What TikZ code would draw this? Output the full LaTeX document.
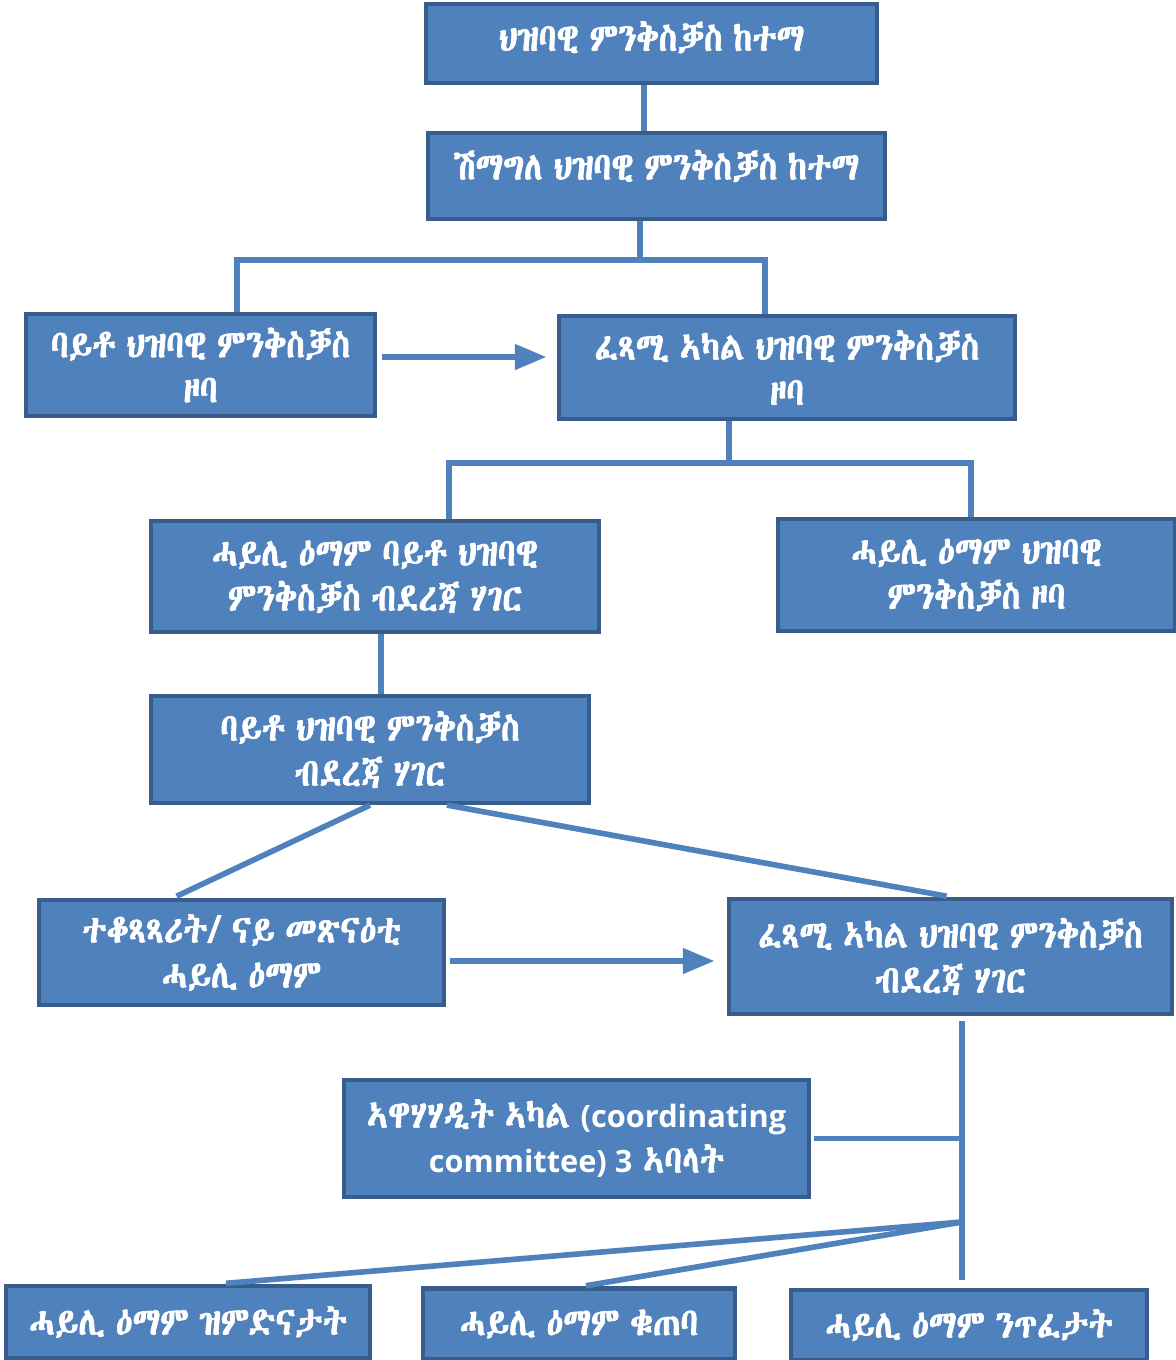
\documentclass[tikz,border=0pt]{standalone}
\usepackage{fontspec}
\usepackage{tikz}
\usetikzlibrary{arrows}
\usepackage{xcolor}

\IfFontExistsTF{Abyssinica SIL}{\newfontfamily\ethfont[FakeBold=1.7, FakeStretch=0.87, WordSpace=0.7]{Abyssinica SIL}}{%
\newfontfamily\ethfont[FakeBold=1.7, FakeStretch=0.87, WordSpace=0.7]{FreeSerif}}
\newfontfamily\latfont{Open Sans}

\definecolor{boxfill}{RGB}{79,129,189}
\definecolor{boxline}{RGB}{56,93,138}

\begin{document}
\begin{tikzpicture}[x=0.02cm, y=-0.02cm,
box/.style={draw=boxline, fill=boxfill, line width=2.4pt, text=white, align=center, inner sep=0pt,
font=\ethfont\fontsize{22}{25.6}\selectfont},
link/.style={boxfill, line width=3.2pt},
arrowlink/.style={link, -triangle 45}]

\useasboundingbox (0,0) rectangle (1176,1360);

\node[box, minimum width=9.02cm, minimum height=1.58cm, text depth=0.3cm] (ketema) at (651.5,43.5) {ህዝባዊ ምንቅስቓስ ከተማ};

\node[box, minimum width=9.14cm, minimum height=1.72cm, text depth=0.45cm] (shimagle) at (656.5,176) {ሽማግለ ህዝባዊ ምንቅስቓስ ከተማ};

\node[box, minimum width=6.98cm, minimum height=2.04cm] (baytozoba) at (200.5,365) {ባይቶ ህዝባዊ ምንቅስቓስ\\ዞባ};

\node[box, minimum width=9.12cm, minimum height=2.06cm] (fetsamizoba) at (787,367.5) {ፈጻሚ ኣካል ህዝባዊ ምንቅስቓስ\\ዞባ};

\node[box, minimum width=8.96cm, minimum height=2.22cm] (hailibayto) at (375,576.5) {ሓይሊ ዕማም ባይቶ ህዝባዊ\\ምንቅስቓስ ብደረጃ ሃገር};

\node[box, minimum width=7.94cm, minimum height=2.24cm] (hailizoba) at (976.5,575) {ሓይሊ ዕማም ህዝባዊ\\ምንቅስቓስ ዞባ};

\node[box, minimum width=8.76cm, minimum height=2.14cm] (baytohager) at (370,749.5) {ባይቶ ህዝባዊ ምንቅስቓስ\\ብደረጃ ሃገር};

\node[box, minimum width=8.10cm, minimum height=2.10cm] (tekotsatsarit) at (241.5,952.5) {ተቆጻጻሪት/ ናይ መጽናዕቲ\\ሓይሊ ዕማም};

\node[box, minimum width=8.86cm, minimum height=2.30cm] (fetsamihager) at (950.5,956.5) {ፈጻሚ ኣካል ህዝባዊ ምንቅስቓስ\\ብደረጃ ሃገር};

\node[box, minimum width=9.30cm, minimum height=2.34cm] (awehahadit) at (576.5,1138.5) {ኣዋሃሃዲት ኣካል {\latfont\bfseries\fontsize{17.5}{25.6}\selectfont (coordinating}\\{\latfont\bfseries\fontsize{17.5}{25.6}\selectfont committee) 3} ኣባላት};

\node[box, minimum width=7.28cm, minimum height=1.44cm] (zimdinatat) at (188,1322) {ሓይሊ ዕማም ዝምድናታት};

\node[box, minimum width=6.24cm, minimum height=1.42cm] (qutebe) at (579,1324) {ሓይሊ ዕማም ቁጠባ};

\node[box, minimum width=7.12cm, minimum height=1.40cm] (nitfetat) at (969,1325) {ሓይሊ ዕማም ንጥፈታት};

\coordinate (zobabus) at (640,260);
\coordinate (hagerbus) at (729,463);
\coordinate (hub) at (962,1222);

\draw[link] ([xshift=-0.15cm]ketema.south) -- ([xshift=-0.15cm]ketema.south |- shimagle.north);

\draw[link] (shimagle.south -| zobabus) -- (zobabus);
\draw[link] ([xshift=0.73cm]baytozoba.north) |- (zobabus) -| ([xshift=-0.44cm]fetsamizoba.north);

\draw[arrowlink, shorten <=0.1cm, shorten >=0.22cm] ([yshift=0.16cm]baytozoba.east) -- ([yshift=0.16cm]baytozoba.east -| fetsamizoba.west);

\draw[link] (fetsamizoba.south -| hagerbus) -- (hagerbus);
\draw[link] ([xshift=1.48cm]hailibayto.north) |- (hagerbus) -| ([xshift=-0.11cm]hailizoba.north);

\draw[link] ([xshift=0.12cm]hailibayto.south) -- ([xshift=0.12cm]hailibayto.south |- baytohager.north);

\draw[link, shorten >=0.08cm] (baytohager.south) -- ([xshift=-1.37cm]tekotsatsarit.north);
\draw[link, shorten >=0.08cm] ([xshift=1.54cm]baytohager.south) -- (fetsamihager.north);

\draw[arrowlink, shorten <=0.08cm, shorten >=0.26cm] ([yshift=-0.17cm]tekotsatsarit.east) -- ([yshift=-0.17cm]tekotsatsarit.east -| fetsamihager.west);

\draw[link, shorten <=0.1cm, shorten >=0.16cm] (fetsamihager.south -| hub) -- (nitfetat.north -| hub);
\draw[link, shorten <=0.06cm] (awehahadit.east) -- (awehahadit.east -| hub);
\draw[link, shorten >=0.14cm] (hub) -- ([xshift=0.62cm]zimdinatat.north);
\draw[link, shorten >=0.08cm] (hub) -- ([xshift=0.06cm]qutebe.north);
\end{tikzpicture}
\end{document}
